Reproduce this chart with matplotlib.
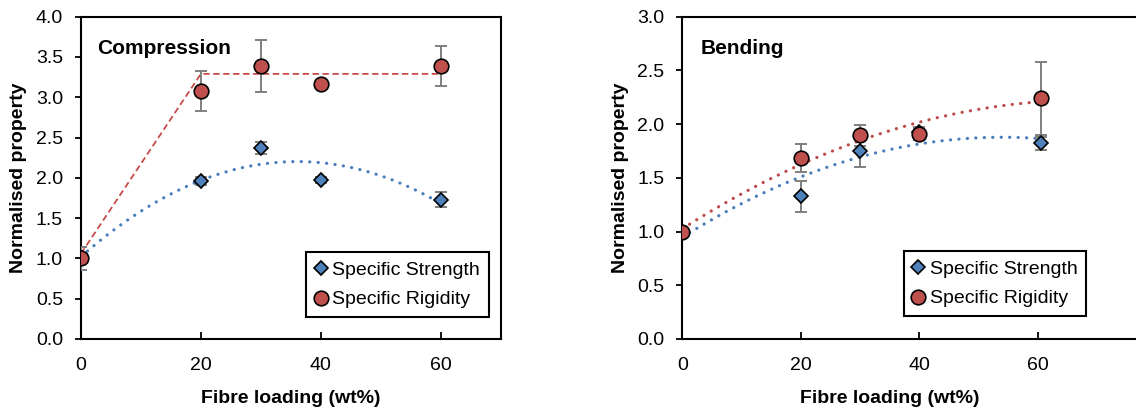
import numpy as np
import matplotlib.pyplot as plt

plt.rcParams['font.family'] = ['Liberation Sans', 'DejaVu Sans']

# Compression panel
comp_x = [0, 20, 30, 40, 60]
comp_strength = [1.0, 1.96, 2.37, 1.97, 1.73]
comp_strength_err = [0.0, 0.05, 0.07, 0.04, 0.09]
comp_rigidity = [1.0, 3.08, 3.39, 3.16, 3.39]
comp_rigidity_err = [0.14, 0.25, 0.32, 0.04, 0.25]
comp_bilinear_x = [0, 20, 60]
comp_bilinear_y = [1.06, 3.29, 3.29]

# Bending panel
bend_x = [0, 20, 30, 40, 60.5]
bend_strength = [1.0, 1.33, 1.75, 1.93, 1.82]
bend_strength_err = [0.0, 0.145, 0.15, 0.04, 0.06]
bend_rigidity = [1.0, 1.685, 1.895, 1.905, 2.24]
bend_rigidity_err = [0.0, 0.13, 0.10, 0.05, 0.34]

xticks = [0, 20, 40, 60]
blue = '#4F81BD'
red = '#C0504D'
gray = '#7F7F7F'


def trend(ax, x, y, color):
    # 2nd order polynomial trendline, like Excel
    coef = np.polyfit(x, y, 2)
    xs = np.linspace(min(x), max(x), 200)
    ax.plot(xs, np.polyval(coef, xs), color=color, lw=2.3,
            linestyle=(0, (0.05, 2.6)), dash_capstyle='round', zorder=2)


def points(ax, x, s, s_err, r, r_err):
    ax.errorbar(x, s, yerr=s_err, fmt='none', ecolor=gray, elinewidth=1.4,
                capsize=4, capthick=1.4, zorder=3)
    ax.errorbar(x, r, yerr=r_err, fmt='none', ecolor=gray, elinewidth=1.4,
                capsize=4, capthick=1.4, zorder=3)
    ax.plot(x, s, 'D', ms=7.5, mfc=blue, mec='black', mew=1.2,
            linestyle='none', label='Specific Strength', zorder=4)
    ax.plot(x, r, 'o', ms=10.5, mfc=red, mec='black', mew=1.2,
            linestyle='none', label='Specific Rigidity', zorder=4)


def style(ax, ymax, title, label_x):
    ax.set_ylim(0, ymax)
    ax.set_yticks(np.arange(0, ymax + 0.01, 0.5))
    ax.set_yticklabels(['%.1f' % v for v in np.arange(0, ymax + 0.01, 0.5)])
    ax.set_xticks(xticks)
    for sp in ax.spines.values():
        sp.set_linewidth(1.5)
    ax.tick_params(axis='y', direction='out', length=4, width=1.3, pad=9,
                   labelsize=14)
    ax.tick_params(axis='x', direction='in', length=5, width=1.3, pad=13,
                   labelsize=14)
    ax.set_xlabel('Fibre loading (wt%)', fontsize=14, fontweight='bold')
    ax.set_ylabel('Normalised property', fontsize=14, fontweight='bold')
    ax.xaxis.set_label_coords(label_x, -0.158)
    ax.text(0.038, 0.9, title, transform=ax.transAxes, fontsize=15,
            fontweight='bold', va='center', ha='left')


def legend(ax, anchor):
    leg = ax.legend(loc='lower right', bbox_to_anchor=anchor,
                    borderaxespad=0, fontsize=14, handlelength=0.6,
                    handletextpad=0.3, fancybox=False, framealpha=1,
                    edgecolor='black', borderpad=0.45, labelspacing=0.62)
    leg.get_frame().set_linewidth(1.5)


fig = plt.figure(figsize=(11.36, 4.11), dpi=100)

ax1 = fig.add_axes([0.0713, 0.1752, 0.3694, 0.7842])
trend(ax1, comp_x, comp_strength, '#4A7EBB')
ax1.plot(comp_bilinear_x, comp_bilinear_y, color='#C84B48', lw=1.3,
         linestyle=(0, (3.5, 2)), zorder=2)
points(ax1, comp_x, comp_strength, comp_strength_err, comp_rigidity,
       comp_rigidity_err)
ax1.set_xlim(0, 70)
style(ax1, 4.0, 'Compression', 0.5)
ax1.yaxis.set_label_coords(-0.128, 0.5)
legend(ax1, (0.972, 0.068))

ax2 = fig.add_axes([0.6006, 0.1752, 0.4174, 0.7842])
trend(ax2, bend_x, bend_strength, '#4A7EBB')
trend(ax2, bend_x, bend_rigidity, '#BE4B48')
points(ax2, bend_x, bend_strength, bend_strength_err, bend_rigidity,
       bend_rigidity_err)
ax2.set_xlim(0, 80)
style(ax2, 3.0, 'Bending', 0.438)
ax2.yaxis.set_label_coords(-0.112, 0.5)
legend(ax2, (0.852, 0.071))

fig.savefig('out.png', dpi=100)
